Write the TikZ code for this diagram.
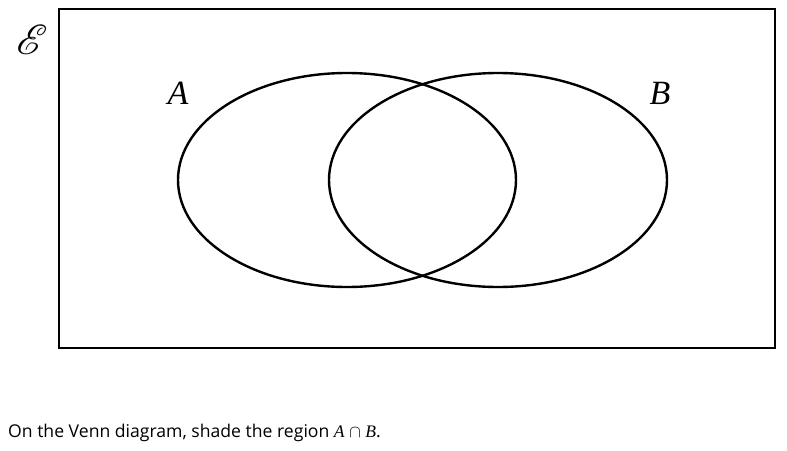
\documentclass[tikz,border=0pt]{standalone}
\usepackage{fontspec}
\usepackage{mathrsfs}
\usetikzlibrary{shapes.geometric}
\setmainfont{Liberation Serif}
\newfontfamily\capfont{Open Sans}
\begin{document}
\begin{tikzpicture}[x=1pt,y=-1pt,
  outline/.style={draw=black,line width=2.4pt},
  setlabel/.style={font=\fontsize{34}{34}\selectfont\itshape,inner sep=0pt}]
\useasboundingbox (0,0) rectangle (787,450);
\node[outline,minimum width=716pt,minimum height=339pt,inner sep=0pt,anchor=north west] (U) at (58,8) {};
\node[outline,ellipse,minimum width=338pt,minimum height=214pt,inner sep=0pt] (EA) at (347,180) {};
\node[outline,ellipse,minimum width=338pt,minimum height=214pt,inner sep=0pt] (EB) at (498,180) {};
\node[inner sep=0pt] (E) at (32,40) {\scalebox{4.2}{$\mathscr{E}$}};
\node[setlabel] (A) at (178,93) {A};
\node[setlabel] (B) at (660,93) {B};
\node[anchor=base west,inner sep=0pt] (cap) at (8,437) {\capfont\fontsize{17.6}{17.6}\selectfont On the Venn diagram, shade the region \textit{\rmfamily A} $\cap$ \textit{\rmfamily B}.};
\end{tikzpicture}
\end{document}
